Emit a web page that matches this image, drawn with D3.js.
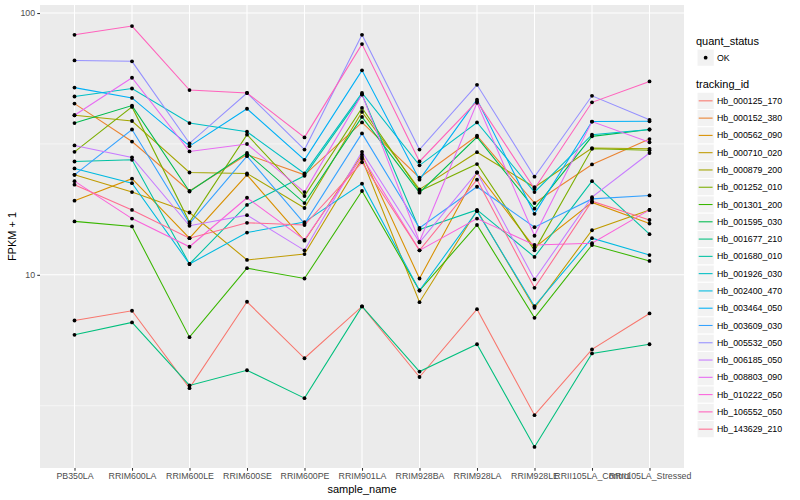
<!DOCTYPE html>
<html>
<head>
<meta charset="utf-8">
<script src="https://cdn.jsdelivr.net/npm/d3@7"></script>
<style>
  body { margin: 0; background: #fff; }
  text { font-family: "Liberation Sans", Arial, Helvetica, sans-serif; }
</style>
</head>
<body>
<div id="chart"></div>
<script>
// samples on the x axis
const samples = ['PB350LA', 'RRIM600LA', 'RRIM600LE', 'RRIM600SE', 'RRIM600PE', 'RRIM901LA',
    'RRIM928BA', 'RRIM928LA', 'RRIM928LE', 'RRII105LA_Control', 'RRII105LA_Stressed'];

const trackingIds = ['Hb_000125_170', 'Hb_000152_380', 'Hb_000562_090', 'Hb_000710_020', 'Hb_000879_200',
    'Hb_001252_010', 'Hb_001301_200', 'Hb_001595_030', 'Hb_001677_210', 'Hb_001680_010',
    'Hb_001926_030', 'Hb_002400_470', 'Hb_003464_050', 'Hb_003609_030', 'Hb_005532_050',
    'Hb_006185_050', 'Hb_008803_090', 'Hb_010222_050', 'Hb_106552_050', 'Hb_143629_210'];

// FPKM + 1 per tracking id, one value per sample
const hb_000125_170 = [6.69, 7.29, 3.69, 7.89, 4.80, 7.57, 4.07, 7.39, 2.91, 5.19, 7.12];
const hb_000152_380 = [45.1, 32.3, 20.9, 28.8, 24.1, 38.2, 23.5, 34.0, 18.8, 26.4, 33.0];
const hb_000562_090 = [19.2, 23.3, 13.8, 24.1, 13.5, 28.8, 9.68, 24.6, 12.7, 18.9, 15.7];
const hb_000710_020 = [24.1, 20.7, 17.3, 11.4, 12.0, 27.7, 7.86, 17.6, 7.48, 14.8, 17.7];
const hb_000879_200 = [40.7, 38.7, 24.6, 24.4, 18.0, 41.9, 21.2, 29.4, 21.6, 30.5, 30.3];
const hb_001252_010 = [29.5, 43.8, 15.9, 34.3, 20.0, 43.4, 20.9, 26.5, 12.4, 30.3, 29.9];
const hb_001301_200 = [16.0, 15.3, 5.78, 10.6, 9.68, 20.9, 8.71, 15.5, 6.85, 13.0, 11.3];
const hb_001595_030 = [38.0, 44.3, 20.8, 29.2, 18.8, 40.1, 20.6, 33.6, 17.9, 33.8, 35.9];
const hb_001677_210 = [5.90, 6.58, 3.78, 4.32, 3.38, 7.57, 4.27, 5.43, 2.20, 5.01, 5.43];
const hb_001680_010 = [27.1, 27.5, 11.0, 18.5, 23.9, 48.8, 14.9, 17.7, 11.7, 22.8, 14.3];
const hb_001926_030 = [48.0, 51.5, 38.0, 35.2, 24.4, 49.5, 26.2, 38.2, 20.7, 34.3, 35.9];
const hb_002400_470 = [25.5, 22.4, 11.0, 14.5, 15.9, 22.3, 8.71, 17.5, 7.59, 13.8, 11.9];
const hb_003464_050 = [51.9, 47.4, 31.0, 43.1, 27.5, 60.4, 23.1, 46.7, 17.1, 38.5, 38.6];
const hb_003609_030 = [24.1, 35.9, 15.7, 28.4, 15.7, 34.7, 15.1, 21.7, 15.2, 19.5, 20.1];
const hb_005532_050 = [65.9, 65.4, 31.8, 49.5, 30.1, 82.6, 30.1, 53.2, 23.7, 48.3, 39.1];
const hb_006185_050 = [31.2, 28.1, 15.4, 16.9, 12.4, 29.5, 13.3, 24.6, 9.60, 19.8, 29.2];
const hb_008803_090 = [40.7, 56.6, 29.6, 31.6, 20.7, 48.9, 13.4, 45.4, 14.1, 38.5, 32.1];
const hb_010222_050 = [22.8, 16.4, 12.8, 19.7, 13.6, 28.2, 12.4, 16.4, 13.0, 13.2, 17.7];
const hb_106552_050 = [82.6, 89.2, 50.8, 49.5, 33.5, 76.1, 27.1, 46.0, 21.3, 45.6, 54.8];
const hb_143629_210 = [22.1, 17.7, 13.8, 15.8, 15.5, 26.9, 12.4, 23.1, 8.92, 19.1, 16.2];

const seriesValues = [hb_000125_170, hb_000152_380, hb_000562_090, hb_000710_020, hb_000879_200,
    hb_001252_010, hb_001301_200, hb_001595_030, hb_001677_210, hb_001680_010,
    hb_001926_030, hb_002400_470, hb_003464_050, hb_003609_030, hb_005532_050,
    hb_006185_050, hb_008803_090, hb_010222_050, hb_106552_050, hb_143629_210];

const yMajorTicks = [10, 100];
const yMinorTicks = [3.1623, 31.623];

// ggplot default hue palette for 20 levels
const hueColors = ['#F8766D', '#EA8331', '#D89000', '#C09B00', '#A3A500', '#7CAE00', '#39B600',
    '#00BB4E', '#00BF7D', '#00C1A3', '#00BFC4', '#00BAE0', '#00B0F6', '#35A2FF', '#9590FF',
    '#C77CFF', '#E76BF3', '#FA62DB', '#FF62BC', '#FF6C91'];

const width = 800;
const height = 500;
const panel = { left: 40, right: 684, top: 5, bottom: 468 };

const series = trackingIds.map((id, i) => ({
    id: id,
    color: hueColors[i],
    points: samples.map((s, j) => ({ sample: s, value: seriesValues[i][j] }))
}));

const svg = d3.select('#chart').append('svg')
    .attr('width', width)
    .attr('height', height);

const x = d3.scalePoint()
    .domain(samples)
    .range([panel.left, panel.right])
    .padding(0.6);

// log scale with 5% expansion in log space, like ggplot
const allValues = seriesValues.flat();
const logExt = d3.extent(allValues).map(Math.log10);
const pad = (logExt[1] - logExt[0]) * 0.05;
const y = d3.scaleLog()
    .domain([Math.pow(10, logExt[0] - pad), Math.pow(10, logExt[1] + pad)])
    .range([panel.bottom, panel.top]);

// panel background
svg.append('rect')
    .attr('x', panel.left)
    .attr('y', panel.top)
    .attr('width', panel.right - panel.left)
    .attr('height', panel.bottom - panel.top)
    .attr('fill', '#EBEBEB');

const grid = svg.append('g').attr('stroke', '#fff').attr('fill', 'none');

grid.selectAll('.minor')
    .data(yMinorTicks)
    .enter().append('line')
    .attr('x1', panel.left).attr('x2', panel.right)
    .attr('y1', d => y(d)).attr('y2', d => y(d))
    .attr('stroke-width', 0.53);

grid.selectAll('.major')
    .data(yMajorTicks)
    .enter().append('line')
    .attr('x1', panel.left).attr('x2', panel.right)
    .attr('y1', d => y(d)).attr('y2', d => y(d))
    .attr('stroke-width', 1.07);

grid.selectAll('.vert')
    .data(samples)
    .enter().append('line')
    .attr('x1', d => x(d)).attr('x2', d => x(d))
    .attr('y1', panel.top).attr('y2', panel.bottom)
    .attr('stroke-width', 1.07);

// lines
const line = d3.line()
    .x(d => x(d.sample))
    .y(d => y(d.value));

svg.append('g')
    .selectAll('path')
    .data(series)
    .enter().append('path')
    .attr('d', d => line(d.points))
    .attr('fill', 'none')
    .attr('stroke', d => d.color)
    .attr('stroke-width', 1.07);

// points
svg.append('g')
    .selectAll('g')
    .data(series)
    .enter().append('g')
    .selectAll('circle')
    .data(d => d.points)
    .enter().append('circle')
    .attr('cx', d => x(d.sample))
    .attr('cy', d => y(d.value))
    .attr('r', 1.9)
    .attr('fill', '#000');

// axes
const xAxis = svg.append('g')
    .attr('transform', `translate(0,${panel.bottom})`)
    .call(d3.axisBottom(x).tickSize(2.75).tickPadding(2.2));
xAxis.select('.domain').remove();
xAxis.selectAll('line').attr('stroke', '#333333').attr('stroke-width', 1.07);
xAxis.selectAll('text')
    .attr('fill', '#4D4D4D')
    .style('font-size', '8.8px')
    .style('font-family', '"Liberation Sans", Arial, sans-serif');

const yAxis = svg.append('g')
    .attr('transform', `translate(${panel.left},0)`)
    .call(d3.axisLeft(y).tickValues(yMajorTicks).tickFormat(d3.format('d')).tickSize(2.75).tickPadding(2.2));
yAxis.select('.domain').remove();
yAxis.selectAll('line').attr('stroke', '#333333').attr('stroke-width', 1.07);
yAxis.selectAll('text')
    .attr('fill', '#4D4D4D')
    .style('font-size', '8.8px')
    .style('font-family', '"Liberation Sans", Arial, sans-serif');

svg.append('text')
    .attr('x', (panel.left + panel.right) / 2)
    .attr('y', 493)
    .attr('text-anchor', 'middle')
    .style('font-size', '11px')
    .text('sample_name');

svg.append('text')
    .attr('transform', `translate(15.5,${(panel.top + panel.bottom) / 2}) rotate(-90)`)
    .attr('text-anchor', 'middle')
    .style('font-size', '11px')
    .text('FPKM + 1');

// legends
const legend = svg.append('g').attr('transform', 'translate(696,0)');
const keySize = 17.28;

legend.append('text')
    .attr('x', 0).attr('y', 44.5)
    .style('font-size', '11px')
    .text('quant_status');

legend.append('rect')
    .attr('x', 1).attr('y', 49)
    .attr('width', keySize).attr('height', keySize)
    .attr('fill', '#F2F2F2').attr('stroke', '#fff');
legend.append('circle')
    .attr('cx', 1 + keySize / 2).attr('cy', 49 + keySize / 2)
    .attr('r', 1.9).attr('fill', '#000');
legend.append('text')
    .attr('x', 21).attr('y', 49 + keySize / 2 + 3.1)
    .style('font-size', '8.8px')
    .text('OK');

legend.append('text')
    .attr('x', 0).attr('y', 88)
    .style('font-size', '11px')
    .text('tracking_id');

const keys = legend.selectAll('.key')
    .data(series)
    .enter().append('g')
    .attr('transform', (d, i) => `translate(1,${92.2 + i * keySize})`);

keys.append('rect')
    .attr('width', keySize).attr('height', keySize)
    .attr('fill', '#F2F2F2').attr('stroke', '#fff');

keys.append('line')
    .attr('x1', 1.7).attr('x2', keySize - 1.7)
    .attr('y1', keySize / 2).attr('y2', keySize / 2)
    .attr('stroke', d => d.color)
    .attr('stroke-width', 1.07);

keys.append('text')
    .attr('x', 20).attr('y', keySize / 2 + 3.1)
    .style('font-size', '8.8px')
    .text(d => d.id);
</script>
</body>
</html>
